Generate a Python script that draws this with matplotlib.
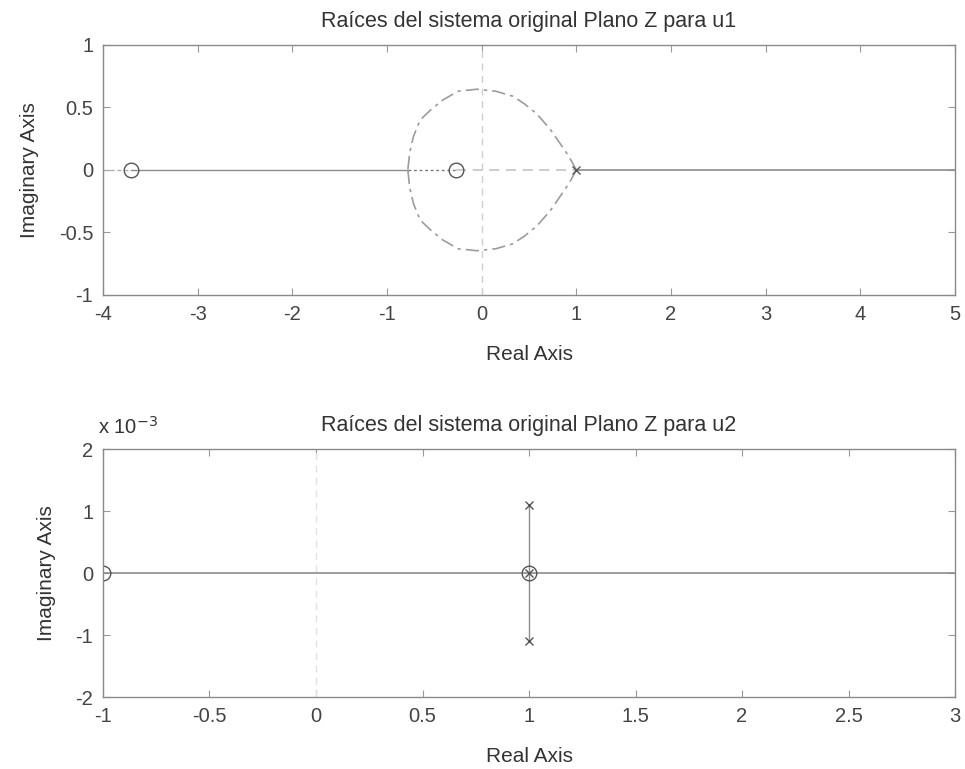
import numpy as np
import matplotlib.pyplot as plt

plt.rcParams['font.family'] = ['Liberation Sans', 'DejaVu Sans']
plt.rcParams['font.size'] = 14.5
plt.rcParams['text.color'] = '#333333'
plt.rcParams['axes.labelcolor'] = '#333333'
plt.rcParams['xtick.color'] = '#999999'
plt.rcParams['ytick.color'] = '#999999'
plt.rcParams['xtick.labelcolor'] = '#444444'
plt.rcParams['ytick.labelcolor'] = '#444444'

# u1: poles / zeros and upper half of the root locus loop
poles1 = [1.0]
zeros1 = [-3.7, -0.27]
loop_x = [1.0, 0.92, 0.83, 0.72, 0.58, 0.45, 0.33, 0.15, -0.05, -0.25, -0.41, -0.54, -0.65, -0.72, -0.76, -0.78]
loop_y = [0.0, 0.11, 0.21, 0.33, 0.45, 0.53, 0.59, 0.63, 0.646, 0.63, 0.56, 0.48, 0.40, 0.27, 0.14, 0.0]
breakin1 = -0.78

# u2: poles / zeros (imag part in units of 1e-3)
poles2_re = [1.0, 1.0, 1.0]
poles2_im = [0.0, 1.1, -1.1]
zeros2_re = [-1.0, 1.0]
zeros2_im = [0.0, 0.0]

fig = plt.figure(figsize=(9.65, 7.69), dpi=100)
ax1 = fig.add_axes([0.1067, 0.6164, 0.883, 0.3251])
ax2 = fig.add_axes([0.1067, 0.0936, 0.883, 0.3225])

lc = '#8c8c8c'

# top plot
ax1.axvline(0, color='#cfcfcf', lw=1, ls=(0, (5, 4)))
ax1.plot([-4, zeros1[0]], [0, 0], color='#b0b0b0', lw=1, ls=(0, (3, 2)))
ax1.plot([zeros1[0], breakin1], [0, 0], color=lc, lw=1)
ax1.plot([breakin1, zeros1[1]], [0, 0], color='#777777', lw=1, ls=(0, (2, 2)))
ax1.plot([zeros1[1], poles1[0]], [0, 0], color='#c4c4c4', lw=1.2, ls=(0, (6, 4)))
ax1.plot([poles1[0], 5], [0, 0], color=lc, lw=1.2)
lx = np.array(loop_x)
ly = np.array(loop_y)
ax1.plot(lx, ly, color='#9c9c9c', lw=1.2, ls=(0, (8, 3, 2, 3)))
ax1.plot(lx, -ly, color='#9c9c9c', lw=1.2, ls=(0, (8, 3, 2, 3)))
ax1.plot(zeros1, [0, 0], 'o', ms=10.5, mfc='none', mec='#555555', mew=1)
ax1.plot(poles1, [0], 'x', ms=6, color='#555555', mew=1)
ax1.set_xlim(-4, 5)
ax1.set_ylim(-1, 1)
ax1.set_xticks(np.arange(-4, 6, 1))
ax1.set_yticks([-1, -0.5, 0, 0.5, 1])
ax1.set_yticklabels(['-1', '-0.5', '0', '0.5', '1'])
ax1.set_xticklabels([str(v) for v in range(-4, 6)])
ax1.set_title('Raíces del sistema original Plano Z para u1', fontsize=15.5, pad=13)
ax1.set_xlabel('Real Axis', fontsize=15, labelpad=15)
ax1.set_ylabel('Imaginary Axis', fontsize=15, labelpad=14)

# bottom plot
ax2.axvline(0, color='#e2e2e2', lw=1, ls=(0, (5, 4)))
ax2.plot([-1, 3], [0, 0], color=lc, lw=1.2)
ax2.plot([poles2_re[1], poles2_re[2]], [poles2_im[1] * 1e-3, poles2_im[2] * 1e-3], color=lc, lw=1)
ax2.plot(zeros2_re, np.array(zeros2_im) * 1e-3, 'o', ms=10.5, mfc='none', mec='#555555', mew=1)
ax2.plot(poles2_re, np.array(poles2_im) * 1e-3, 'x', ms=6, color='#555555', mew=1)
ax2.set_xlim(-1, 3)
ax2.set_ylim(-2e-3, 2e-3)
ax2.set_xticks(np.arange(-1, 3.5, 0.5))
ax2.set_xticklabels(['-1', '-0.5', '0', '0.5', '1', '1.5', '2', '2.5', '3'])
ax2.set_yticks([-2e-3, -1e-3, 0, 1e-3, 2e-3])
ax2.set_yticklabels(['-2', '-1', '0', '1', '2'])
ax2.text(-0.006, 1.045, r'x 10$^{-3}$', transform=ax2.transAxes, ha='left', va='bottom', fontsize=14.5)
ax2.set_title('Raíces del sistema original Plano Z para u2', fontsize=15.5, pad=13)
ax2.set_xlabel('Real Axis', fontsize=15, labelpad=15)
ax2.set_ylabel('Imaginary Axis', fontsize=15, labelpad=14)

for ax in (ax1, ax2):
    for s in ax.spines.values():
        s.set_color('#8a8a8a')
        s.set_linewidth(1)
    ax.tick_params(direction='in', top=True, right=True, length=5, width=0.8, pad=7)

fig.savefig('out.png', dpi=100)
